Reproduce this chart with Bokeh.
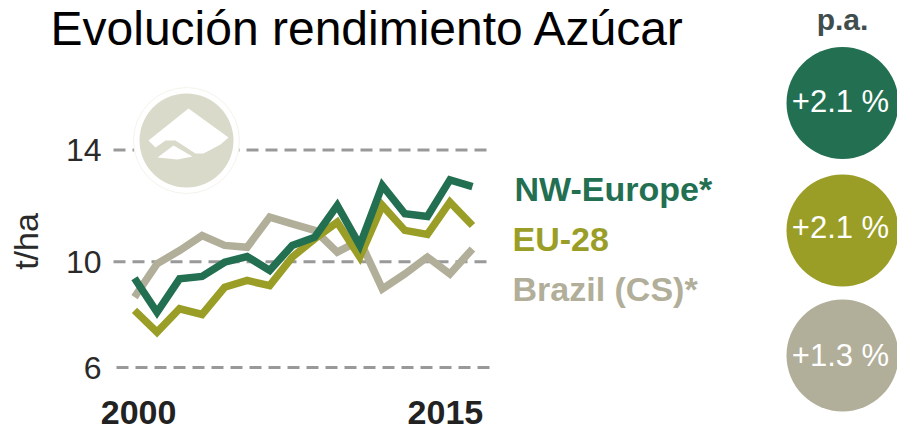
from bokeh.plotting import figure
from bokeh.models import Range1d, FixedTicker
from bokeh.core.properties import value
from bokeh.embed import file_html
from bokeh.resources import INLINE

years = list(range(2000, 2016))
nw_europe = [9.28, 8.03, 9.26, 9.35, 9.87, 10.08, 9.57, 10.49, 10.79, 11.96, 10.49, 12.69, 11.65, 11.55, 12.90, 12.65]
eu_28 = [8.10, 7.30, 8.16, 7.95, 8.95, 9.20, 9.01, 10.06, 10.73, 11.34, 10.06, 11.96, 11.04, 10.89, 12.08, 11.22]
brazil = [8.59, 9.81, 10.30, 10.85, 10.49, 10.42, 11.53, 11.28, 11.04, 10.24, 10.67, 8.89, 9.44, 10.06, 9.44, 10.36]
series_names = ["NW-Europe*", "EU-28", "Brazil (CS)*"]
growth_labels = ["+2.1 %", "+2.1 %", "+1.3 %"]
colors = ["#236F51", "#9A9E26", "#B1AE99"]
y_ticks = [14, 9.89, 6]
y_tick_labels = {14: "14", 9.89: "10", 6: "6"}
x_ticks = [2000.18, 2013.8]
x_tick_labels = {2000.18: "2000", 2013.8: "2015"}

PXX = 22.53
PXY = 27.2
def X(px): return 2000 + (px - 134) / PXX
def Y(py): return 6 + (367 - py) / PXY

W, H = 897, 432
FL, FB = 0, 413
FONT = value("Liberation Sans")

p = figure(width=W, height=H, output_backend="svg", toolbar_location=None,
           x_range=Range1d(X(FL), X(W)), y_range=Range1d(Y(FB), Y(0)),
           min_border_left=FL, min_border_right=0, min_border_top=0, min_border_bottom=H - FB,
           outline_line_color=None, background_fill_color="white", border_fill_color="white")
p.grid.visible = False

p.yaxis.ticker = FixedTicker(ticks=y_ticks)
p.yaxis.major_label_overrides = y_tick_labels
p.yaxis.axis_line_color = None
p.yaxis.major_tick_line_color = None
p.yaxis.minor_tick_line_color = None
p.yaxis.major_label_standoff = -107
p.yaxis.major_label_text_font = "Liberation Sans"
p.yaxis.major_label_text_font_size = "32px"
p.yaxis.major_label_text_color = "#2a2a2a"

p.xaxis.ticker = FixedTicker(ticks=x_ticks)
p.xaxis.major_label_overrides = x_tick_labels
p.xaxis.axis_line_color = None
p.xaxis.major_tick_line_color = None
p.xaxis.minor_tick_line_color = None
p.xaxis.major_label_standoff = -19
p.xaxis.major_label_text_font = "Liberation Sans"
p.xaxis.major_label_text_font_style = "bold"
p.xaxis.major_label_text_font_size = "34px"
p.xaxis.major_label_text_color = "#222222"

# dashed gridlines (the lowest one sits slightly further right in the original)
p.segment(x0=[X(113), X(113), X(116)], x1=[X(487), X(487), X(490)], y0=y_ticks, y1=y_ticks,
          line_color="#999999", line_width=3, line_dash="12 7")

# sugar icon
p.scatter(x=[X(186)], y=[Y(140)], size=106, fill_color="#FFFFFF", line_color="#F4F4EC", line_width=1)
p.scatter(x=[X(186)], y=[Y(140)], size=94, fill_color="#DADACB", line_color=None)
shape_a = [(188, 108), (228, 137), (220, 144), (203, 153), (195, 153), (175, 140), (165, 140), (155, 147), (148, 140)]
shape_b = [(173, 145), (192, 156), (177, 159), (157, 157)]
p.patches(xs=[[X(a) for a, _ in s] for s in (shape_a, shape_b)],
          ys=[[Y(b) for _, b in s] for s in (shape_a, shape_b)],
          fill_color="#FFFFFF", line_color=None)

# series lines
for vals, col in zip([brazil, eu_28, nw_europe], [colors[2], colors[1], colors[0]]):
    p.line(years, vals, line_color=col, line_width=7.5, line_join="miter")

# title
p.text(x=[X(50)], y=[Y(28)], text=["Evolución rendimiento Azúcar"], text_font=FONT,
       text_font_size="48px", text_color="#000000", text_baseline="alphabetic")

# series names
for name, col, px, py in zip(series_names, colors, [514, 512, 512], [188, 238, 288]):
    p.text(x=[X(px)], y=[Y(py)], text=[name], text_font=FONT, text_font_style="bold",
           text_font_size="34px", text_color=col, text_baseline="alphabetic")

# growth circles
p.text(x=[X(842)], y=[Y(19)], text=["p.a."], text_font=FONT, text_font_style="bold",
       text_font_size="30px", text_color="#3F4D4D", text_align="center", text_baseline="alphabetic")
for lab, col, py, by in zip(growth_labels, colors, [102.5, 230, 355], [101, 227, 355]):
    p.scatter(x=[X(842)], y=[Y(py)], size=112, fill_color=col, line_color=None)
    p.text(x=[X(840)], y=[Y(by)], text=[lab], text_font=FONT, text_font_size="31px",
           text_color="#FFFFFF", text_align="center", text_baseline="alphabetic")

p.text(x=[X(25)], y=[Y(241)], text=["t/ha"], angle=[90], angle_units="deg", text_font=FONT,
       text_font_size="34px", text_color="#2a2a2a", text_align="center", text_baseline="alphabetic")

open("out.html", "w").write(file_html(p, INLINE))
